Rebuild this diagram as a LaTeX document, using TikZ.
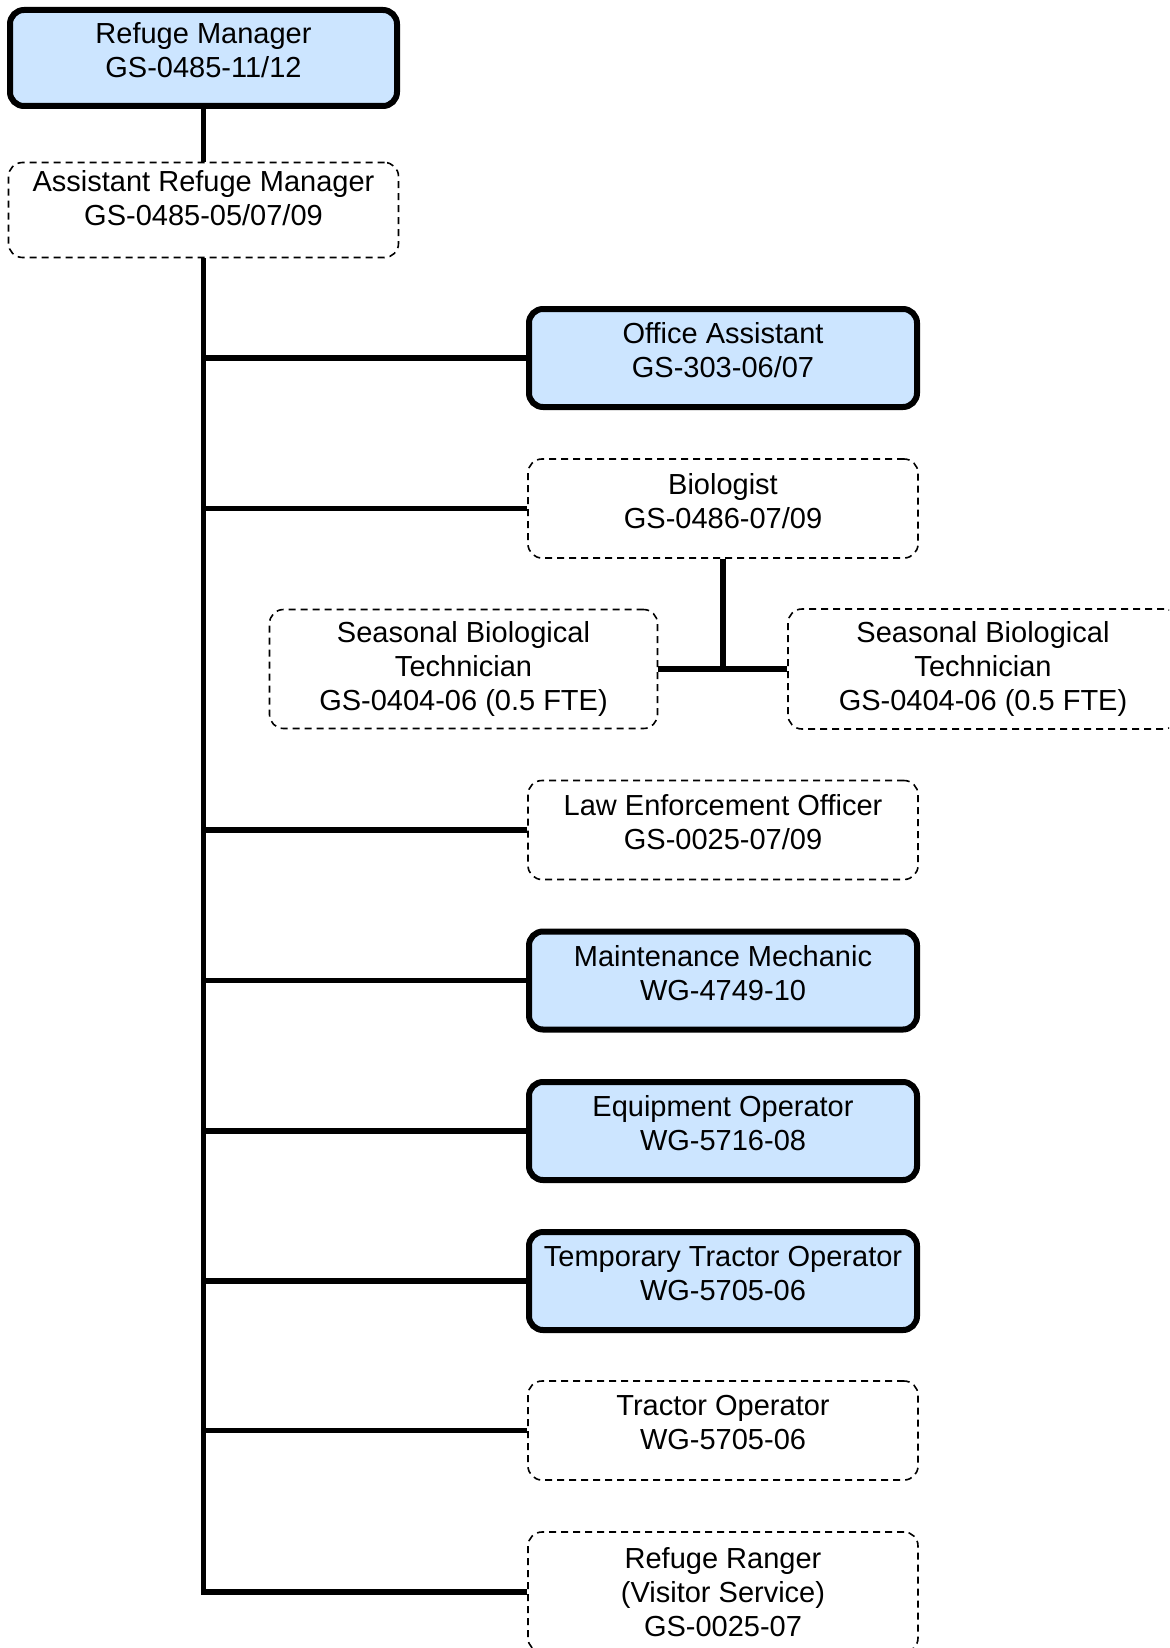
\documentclass[tikz,border=0pt]{standalone}
\usepackage{fontspec}
\setmainfont{Liberation Sans}
\definecolor{boxblue}{RGB}{204,229,255}
\newcommand\xd[1]{\rule[-#1]{0pt}{#1}}
\tikzset{
  box/.style={rectangle, rounded corners=7pt, align=center, inner sep=2pt,
    font=\fontsize{14.5pt}{17pt}\selectfont, text=black},
  solidbox/.style={box, draw=black, line width=3pt, fill=boxblue,
    minimum width=194pt, minimum height=49pt},
  dashbox/.style={box, draw=black, line width=0.8pt, dash pattern=on 3.5pt off 2.5pt,
    minimum width=195pt, minimum height=49.5pt},
  conn/.style={draw=black, line width=2.9pt},
}
\begin{document}
\begin{tikzpicture}[x=0.5pt,y=-0.5pt]
\useasboundingbox (0,0) rectangle (1169,1648);
\clip (0,0) rectangle (1169,1648);

\node[solidbox, minimum width=193.5pt, minimum height=48pt] (rm) at (203.5,58)
  {Refuge Manager\\GS-0485-11/12\xd{8pt}};
\node[dashbox, minimum width=195pt, minimum height=47.5pt] (arm) at (203.5,210)
  {Assistant Refuge Manager\\GS-0485-05/07/09\xd{12pt}};

\node[solidbox] (oa) at (723,358) {Office Assistant\\GS-303-06/07\xd{8pt}};
\node[dashbox] (bio) at (723,508.5) {Biologist\\GS-0486-07/09\xd{8pt}};
\node[dashbox, minimum width=194pt, minimum height=59.5pt] (sbtL) at (463.5,669)
  {Seasonal Biological\\Technician\\GS-0404-06 (0.5 FTE)};
\node[dashbox, minimum width=195pt, minimum height=60pt] (sbtR) at (983,669)
  {Seasonal Biological\\Technician\\GS-0404-06 (0.5 FTE)};
\node[dashbox] (leo) at (723,830) {Law Enforcement Officer\\GS-0025-07/09\xd{8pt}};
\node[solidbox] (mm) at (723,980.5) {Maintenance Mechanic\\WG-4749-10\xd{8pt}};
\node[solidbox] (eo) at (723,1131) {Equipment Operator\\WG-5716-08\xd{8pt}};
\node[solidbox] (tto) at (723,1281) {Temporary Tractor Operator\\WG-5705-06\xd{8pt}};
\node[dashbox] (to) at (723,1430.5) {Tractor Operator\\WG-5705-06\xd{8pt}};
\node[dashbox, minimum height=60pt] (rr) at (723,1592)
  {Refuge Ranger\\(Visitor Service)\\GS-0025-07};

\draw[conn] (rm.south) -- (arm.north);
\draw[conn] (arm.south) |- (rr.west);
\foreach \n in {oa,bio,leo,mm,eo,tto,to}
  \draw[conn] (arm.south |- \n.west) -- (\n.west);
\draw[conn] (bio.south) -- (bio.south |- sbtL.east);
\draw[conn] (sbtL.east) -- (sbtR.west);
\end{tikzpicture}
\end{document}
